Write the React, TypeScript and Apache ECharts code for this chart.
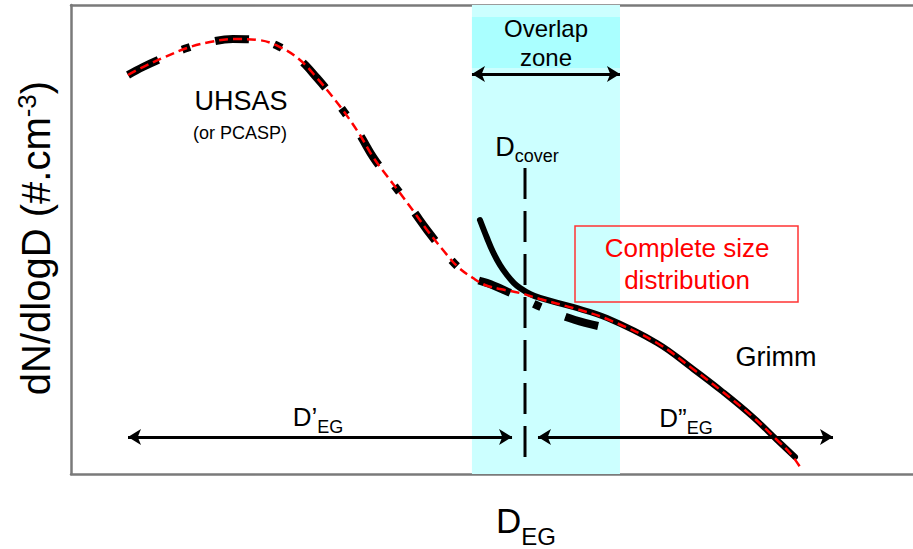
import React, { useEffect, useRef } from "react";
import * as echarts from "echarts";

// Schematic units: x and y both span 0..100 across the plot frame
const uhsasPoints: [number, number][] = [
  [6.77, 85.07], [8.55, 86.78], [11.16, 88.91], [13.78, 90.83], [16.51, 92.11],
  [19.24, 92.75], [22.21, 92.54], [24.82, 91.04], [27.2, 88.27], [29.22, 84.43],
  [30.99, 80.6], [32.54, 76.97], [34.32, 72.28], [35.87, 67.59], [37.53, 63.54],
  [39.07, 59.91], [40.74, 55.86], [42.28, 52.03], [44.18, 47.76], [45.96, 44.14],
  [47.74, 41.79], [49.76, 40.51], [52.97, 37.95], [56.06, 35.39], [59.86, 32.84],
  [63.66, 31.13],
];

const grimmPoints: [number, number][] = [
  [48.57, 54.16], [49.41, 50.32], [50.12, 47.33], [50.95, 44.56], [51.78, 42.43],
  [52.61, 40.72], [53.33, 39.66], [54.51, 38.38], [55.7, 37.53], [59.62, 35.61],
  [63.66, 33.26], [69.6, 27.93], [73.87, 22.39], [77.43, 17.48],
  [80.99, 12.15], [83.85, 7.25], [85.99, 3.62],
];

const completePoints: [number, number][] = [
  [6.77, 85.07], [8.55, 86.78], [11.16, 88.91], [13.78, 90.83], [16.51, 92.11],
  [19.24, 92.75], [22.21, 92.54], [24.82, 91.04], [27.2, 88.27], [29.22, 84.43],
  [30.99, 80.6], [32.54, 76.97], [34.32, 72.28], [35.87, 67.59], [37.53, 63.54],
  [39.07, 59.91], [40.74, 55.86], [42.28, 52.03], [44.18, 47.76], [45.96, 44.14],
  [47.74, 41.79], [49.17, 40.3], [50.95, 39.45], [53.33, 38.59], [55.7, 37.31],
  [59.62, 35.39], [63.66, 33.05], [69.6, 27.93], [73.87, 22.39],
  [77.43, 17.48], [80.99, 12.15], [83.85, 7.25], [85.39, 4.48], [86.82, 0.85],
];

const overlapZone = [47.62, 65.2];
const overlapTextBand = [86.57, 97.44];
const dCoverLine: [number, number][] = [[53.92, 65.25], [53.92, 2.35]];
const overlapArrow = { y: 85.29, from: 47.62, to: 65.2 };
const dPrimeArrow = { y: 7.89, from: 6.77, to: 52.38 };
const dDoublePrimeArrow = { y: 7.89, from: 55.46, to: 90.5 };

const FONT = "'Liberation Sans', Arial, sans-serif";

export default function App() {
  const ref = useRef<HTMLDivElement>(null);

  useEffect(() => {
    if (!ref.current) return;
    const chart = echarts.init(ref.current, null, { renderer: "svg" });

    const axisLine = { show: true, onZero: false, lineStyle: { color: "#7a7a7a", width: 2.5 } };
    const hidden = {
      axisTick: { show: false },
      axisLabel: { show: false },
      splitLine: { show: false },
    };

    const arrowLine = (a: { y: number; from: number; to: number }) => [
      { coord: [a.from, a.y] },
      { coord: [a.to, a.y] },
    ];

    const txt = (o: any) => ({ type: "text", z: 100, zlevel: 0, ...o });

    chart.setOption({
      animation: false,
      backgroundColor: "#ffffff",
      grid: { left: 71, top: 5, right: 0, bottom: 75 },
      xAxis: [
        { type: "value", min: 0, max: 100, position: "bottom", axisLine, ...hidden },
        { type: "value", min: 0, max: 100, position: "top", axisLine, ...hidden },
      ],
      yAxis: { type: "value", min: 0, max: 100, position: "left", axisLine, ...hidden },
      series: [
        {
          type: "line",
          name: "zone",
          data: dCoverLine,
          showSymbol: false,
          lineStyle: { opacity: 0 },
          z: 1,
          silent: true,
          markArea: {
            silent: true,
            data: [
              [
                { xAxis: overlapZone[0], itemStyle: { color: "#ccffff" } },
                { xAxis: overlapZone[1] },
              ],
              [
                { xAxis: overlapZone[0], yAxis: overlapTextBand[0], itemStyle: { color: "#aaffff" } },
                { xAxis: overlapZone[1], yAxis: overlapTextBand[1] },
              ],
            ],
          },
        },
        {
          type: "line",
          name: "Dcover",
          data: dCoverLine,
          showSymbol: false,
          silent: true,
          z: 2,
          lineStyle: { color: "#000", width: 3, type: [31, 12], cap: "butt" },
        },
        {
          type: "line",
          name: "UHSAS",
          data: uhsasPoints,
          smooth: 0.4,
          showSymbol: false,
          silent: true,
          z: 3,
          lineStyle: { color: "#000", width: 8, type: [34, 26, 8, 26], cap: "butt" },
        },
        {
          type: "line",
          name: "Grimm",
          data: grimmPoints,
          smooth: 0.4,
          showSymbol: false,
          silent: true,
          z: 4,
          lineStyle: { color: "#000", width: 6, cap: "round" },
        },
        {
          type: "line",
          name: "Complete",
          data: completePoints,
          smooth: 0.4,
          showSymbol: false,
          silent: true,
          z: 5,
          lineStyle: { color: "#ff0000", width: 2.5, type: [9, 5] },
        },
        {
          type: "line",
          name: "arrows",
          data: [],
          silent: true,
          z: 6,
          markLine: {
            silent: true,
            symbol: ["arrow", "arrow"],
            symbolSize: [12, 13],
            label: { show: false },
            lineStyle: { color: "#000", width: 3, type: "solid" },
            emphasis: { disabled: true },
            data: [arrowLine(overlapArrow), arrowLine(dPrimeArrow), arrowLine(dDoublePrimeArrow)],
          },
        },
      ],
      graphic: [
        txt({
          x: 36,
          y: 238,
          rotation: Math.PI / 2,
          style: {
            text: "{a|dN/dlogD (#.cm}{s|-3}{a|)}",
            align: "center",
            verticalAlign: "middle",
            fill: "#000",
            rich: {
              a: { fontSize: 40, lineHeight: 44, fontFamily: FONT, fill: "#000" },
              s: { fontSize: 26, lineHeight: 26, verticalAlign: "top", fontFamily: FONT, fill: "#000" },
            },
          },
        }),
        txt({
          x: 526,
          y: 520,
          style: {
            text: "{a|D}{b|EG}",
            align: "center",
            verticalAlign: "middle",
            rich: {
              a: { fontSize: 35, lineHeight: 56, fontFamily: FONT, fill: "#000" },
              b: { fontSize: 24, lineHeight: 24, verticalAlign: "bottom", fontFamily: FONT, fill: "#000" },
            },
          },
        }),
        txt({
          x: 546,
          y: 43,
          style: {
            text: "Overlap\nzone",
            align: "center",
            verticalAlign: "middle",
            fontSize: 24,
            lineHeight: 29,
            fontFamily: FONT,
            fill: "#000",
          },
        }),
        txt({
          x: 241,
          y: 101,
          style: { text: "UHSAS", align: "center", verticalAlign: "middle", fontSize: 27, fontFamily: FONT, fill: "#000" },
        }),
        txt({
          x: 240,
          y: 133,
          style: { text: "(or PCASP)", align: "center", verticalAlign: "middle", fontSize: 18, fontFamily: FONT, fill: "#000" },
        }),
        txt({
          x: 527,
          y: 147,
          style: {
            text: "{a|D}{b|cover}",
            align: "center",
            verticalAlign: "middle",
            rich: {
              a: { fontSize: 27, lineHeight: 35, fontFamily: FONT, fill: "#000" },
              b: { fontSize: 18, lineHeight: 18, verticalAlign: "bottom", fontFamily: FONT, fill: "#000" },
            },
          },
        }),
        {
          type: "rect",
          z: 100,
          shape: { x: 575, y: 226, width: 223, height: 76 },
          style: { fill: "none", stroke: "#ff3333", lineWidth: 1.5 },
        },
        txt({
          x: 687,
          y: 264,
          style: {
            text: "Complete size\ndistribution",
            align: "center",
            verticalAlign: "middle",
            fontSize: 26,
            lineHeight: 32,
            fontFamily: FONT,
            fill: "#ff0000",
          },
        }),
        txt({
          x: 776,
          y: 357,
          style: { text: "Grimm", align: "center", verticalAlign: "middle", fontSize: 27, fontFamily: FONT, fill: "#000" },
        }),
        txt({
          x: 318,
          y: 417,
          style: {
            text: "{a|D’}{b|EG}",
            align: "center",
            verticalAlign: "middle",
            rich: {
              a: { fontSize: 26, lineHeight: 38, fontFamily: FONT, fill: "#000" },
              b: { fontSize: 18, lineHeight: 18, verticalAlign: "bottom", fontFamily: FONT, fill: "#000" },
            },
          },
        }),
        txt({
          x: 686,
          y: 418,
          style: {
            text: "{a|D”}{b|EG}",
            align: "center",
            verticalAlign: "middle",
            rich: {
              a: { fontSize: 26, lineHeight: 38, fontFamily: FONT, fill: "#000" },
              b: { fontSize: 18, lineHeight: 18, verticalAlign: "bottom", fontFamily: FONT, fill: "#000" },
            },
          },
        }),
      ],
    });

    return () => chart.dispose();
  }, []);

  return (
    <div
      ref={ref}
      style={{ position: "fixed", left: 0, top: 0, width: 913, height: 549, background: "#fff" }}
    />
  );
}
